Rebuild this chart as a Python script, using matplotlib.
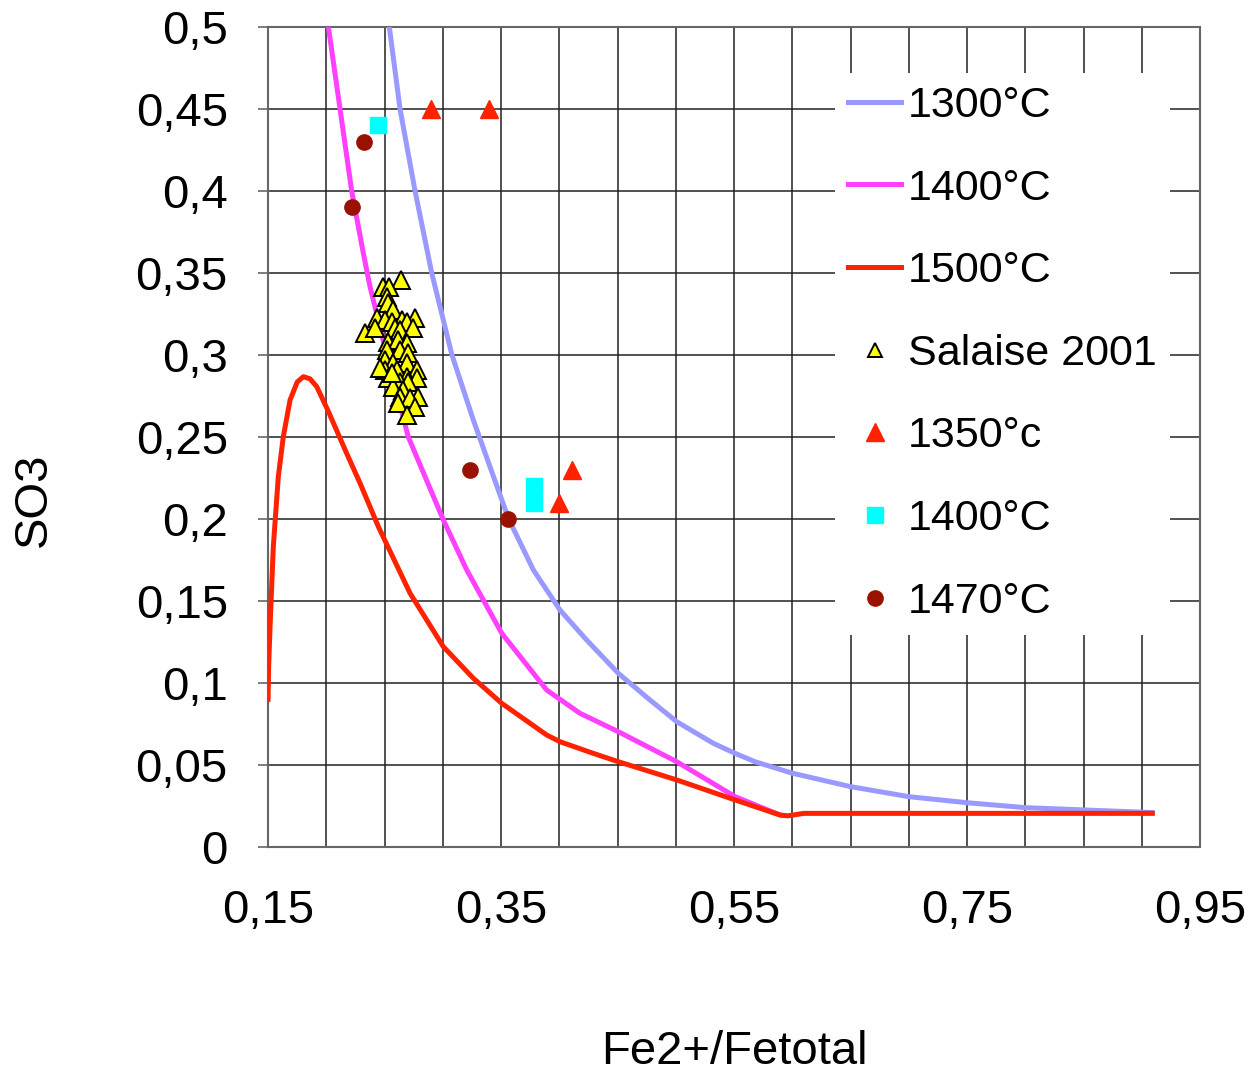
import matplotlib.pyplot as plt

plt.rcParams['font.family'] = ['Liberation Sans', 'DejaVu Sans']

# model curves
x_1300 = [0.2541, 0.2633, 0.2762, 0.2905, 0.3077, 0.3262, 0.3563, 0.3777, 0.4006,
          0.4235, 0.4507, 0.4779, 0.5008, 0.5323, 0.5509, 0.568, 0.60, 0.65, 0.70,
          0.75, 0.80, 0.85, 0.909]
y_1300 = [0.50, 0.45, 0.40, 0.35, 0.3004, 0.2604, 0.2004, 0.169, 0.1445,
          0.1262, 0.1059, 0.0896, 0.0764, 0.0632, 0.0571, 0.052, 0.045, 0.0368, 0.0307,
          0.027, 0.024, 0.0226, 0.021]

x_1400 = [0.2018, 0.2118, 0.2218, 0.2318, 0.2375, 0.252, 0.2704, 0.3005, 0.3205, 0.3506,
          0.3892, 0.4178, 0.4507, 0.5008, 0.5509, 0.5895]
y_1400 = [0.50, 0.45, 0.40, 0.362, 0.3417, 0.30, 0.25, 0.1994, 0.169, 0.1303,
          0.0957, 0.0815, 0.0703, 0.052, 0.0307, 0.0195]

x_1500 = [0.150, 0.1505, 0.1517, 0.1545, 0.1588, 0.1631, 0.1689, 0.175, 0.1803, 0.186,
          0.1918, 0.2012, 0.2175, 0.229, 0.2447, 0.2719, 0.3005, 0.3262, 0.3506, 0.3892,
          0.4006, 0.4292, 0.4507, 0.5008, 0.5509, 0.5895, 0.596, 0.61, 0.75, 0.909]
y_1500 = [0.090, 0.110, 0.1343, 0.183, 0.2258, 0.2502, 0.2726, 0.2835, 0.2868, 0.2855,
          0.2807, 0.2665, 0.240, 0.2218, 0.1953, 0.1547, 0.1221, 0.1029, 0.0876, 0.0683,
          0.0642, 0.0571, 0.052, 0.0409, 0.0287, 0.0195, 0.019, 0.0205, 0.0205, 0.0205]

# measured points
salaise_x = [0.2639, 0.249, 0.2541, 0.2519, 0.2533, 0.2576, 0.2433, 0.2504, 0.2562, 0.2648,
             0.2762, 0.2691, 0.2333, 0.2418, 0.259, 0.2633, 0.2747, 0.2533, 0.2619, 0.2691,
             0.2519, 0.2633, 0.2704, 0.2504, 0.2576, 0.2691, 0.2776, 0.2504, 0.2605, 0.2533,
             0.2691, 0.2776, 0.2633, 0.2704, 0.2576, 0.2662, 0.279, 0.2633, 0.2719, 0.2619,
             0.2762, 0.2691, 0.2461, 0.2562]
salaise_y = [0.3457, 0.3417, 0.3417, 0.3356, 0.3315, 0.3274, 0.3224, 0.3213, 0.3203, 0.3213,
             0.3224, 0.3203, 0.3132, 0.3163, 0.3163, 0.3152, 0.3163, 0.3081, 0.3091, 0.3071,
             0.303, 0.303, 0.301, 0.297, 0.2949, 0.2949, 0.2909, 0.2909, 0.2909, 0.2858,
             0.2868, 0.2858, 0.2837, 0.2837, 0.2807, 0.2787, 0.2746, 0.2746, 0.2736, 0.2705,
             0.2685, 0.2634, 0.2919, 0.2888]

t1350_x = [0.29, 0.34, 0.411, 0.40]
t1350_y = [0.45, 0.45, 0.23, 0.21]
t1400_x = [0.244, 0.378, 0.378]
t1400_y = [0.44, 0.22, 0.21]
t1470_x = [0.232, 0.222, 0.323, 0.356]
t1470_y = [0.43, 0.39, 0.23, 0.20]

xticks = [0.15, 0.35, 0.55, 0.75, 0.95]
xtick_labels = ['0,15', '0,35', '0,55', '0,75', '0,95']
yticks = [0, 0.05, 0.1, 0.15, 0.2, 0.25, 0.3, 0.35, 0.4, 0.45, 0.5]
ytick_labels = ['0', '0,05', '0,1', '0,15', '0,2', '0,25', '0,3', '0,35', '0,4', '0,45', '0,5']

fig = plt.figure(figsize=(12.52, 10.82), dpi=100)
ax = fig.add_axes([0.2141, 0.2172, 0.7444, 0.7578])

ax.plot(x_1300, y_1300, color='#9999FF', lw=3.6, label='1300°C', zorder=3)
ax.plot(x_1400, y_1400, color='#FF40FF', lw=3.6, label='1400°C', zorder=3)
ax.plot(x_1500, y_1500, color='#FF2200', lw=3.6, label='1500°C', zorder=4)

ax.plot(salaise_x, salaise_y, ls='none', marker='^', ms=13, mfc='#FFFF00', mec='black',
        mew=1.4, label='Salaise 2001', zorder=5)
ax.plot(t1350_x, t1350_y, ls='none', marker='^', ms=13, color='#FF2200', label='1350°c', zorder=5)
ax.plot(t1400_x, t1400_y, ls='none', marker='s', ms=11, color='#00FFFF', label='1400°C', zorder=5)
ax.plot(t1470_x, t1470_y, ls='none', marker='o', ms=11, color='#991100', label='1470°C', zorder=5)

ax.set_xlim(0.15, 0.95)
ax.set_ylim(0, 0.5)

# grid every 0.05
for gx in [0.15 + 0.05 * i for i in range(17)]:
    ax.axvline(gx, color='#222222', lw=1.1, zorder=1)
for gy in yticks:
    ax.axhline(gy, color='#222222', lw=1.1, zorder=1)

ax.set_xticks(xticks)
ax.set_xticklabels(xtick_labels, fontsize=34)
ax.set_yticks(yticks)
ax.set_yticklabels(ytick_labels, fontsize=34)
ax.tick_params(axis='x', length=0, pad=30)
ax.tick_params(axis='y', length=7, width=1.2, color='#666666', pad=22)
for s in ax.spines.values():
    s.set_color('#666666')
    s.set_linewidth(1.5)

ax.set_xlabel('Fe2+/Fetotal', fontsize=34, labelpad=70)
ax.set_ylabel('SO3', fontsize=34)
ax.yaxis.set_label_coords(-0.228, 0.423)

leg = ax.legend(loc='upper left', bbox_to_anchor=(0.608, 0.944), fontsize=31,
                frameon=True, fancybox=False, edgecolor='none', facecolor='white',
                framealpha=1, borderpad=0.3, labelspacing=0.99, handlelength=1.25,
                handletextpad=0.15, borderaxespad=0)
leg.set_zorder(10)
leg.legend_handles[3].set_markersize(10)

plt.savefig('out.png', dpi=100)
